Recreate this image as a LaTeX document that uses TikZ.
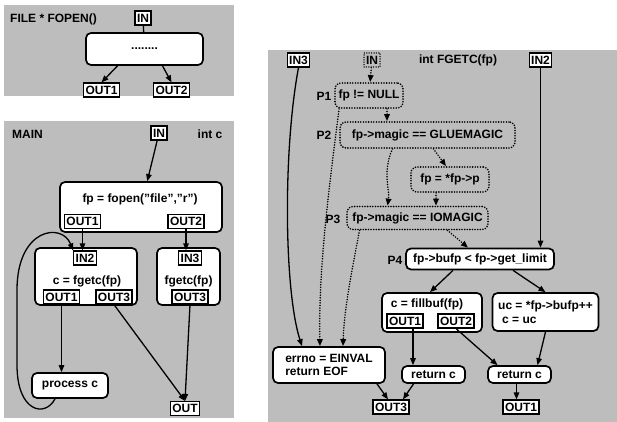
\documentclass[tikz,border=0pt]{standalone}
\usepackage{fontspec}
\setmainfont{Liberation Sans}
\usetikzlibrary{arrows.meta,positioning,calc}
\definecolor{Screen}{HTML}{BDBDBD}
\tikzset{
  lbl/.style={font=\fontsize{12}{13.5}\selectfont\bfseries,inner sep=1pt},
  blk/.style={lbl,draw,fill=white,line width=1.7pt,rounded corners=5pt},
  dotblk/.style={lbl,draw,line width=1.8pt,dash pattern=on 0pt off 2.6pt,line cap=round,rounded corners=6pt},
  port/.style={lbl,draw,fill=white,line width=1.2pt,inner xsep=2pt,minimum height=14pt},
  flow/.style={-{Triangle[length=7pt,width=5.5pt]},line width=1.3pt},
  dotflow/.style={flow,line width=1.7pt,dash pattern=on 0pt off 2.6pt,line cap=round},
}
\newcommand{\PortBox}[4]{%
  \node[port] (#1) at (#2,#3) {#4};%
}

\begin{document}
\begin{tikzpicture}[x=1pt,y=-1pt]
\useasboundingbox (0,0) rectangle (617,422);
\foreach \a/\b/\c/\d in {4/5/234/96,4/121/234/418,268/50/617/422}
  \fill[Screen] (\a,\b) rectangle (\c,\d);
% FILE * FOPEN()
\node[lbl,anchor=west] (titleA) at (9,19) {FILE * FOPEN()};
\PortBox{inA}{143}{18}{IN}
\node[blk,minimum width=117pt,minimum height=32pt] (openA) at (144.5,49) {........};
\PortBox{outA1}{101.5}{90}{OUT1}
\PortBox{outA2}{171.5}{90}{OUT2}
\draw[line width=1.3pt] (inA) -- (openA);
\draw[flow] ([xshift=-27pt]openA.south) -- (outA1.north);
\draw[flow] ([xshift=18pt]openA.south) -- (outA2.north);
% MAIN
\node[lbl,anchor=west] (titleB) at (11,134) {MAIN};
\PortBox{inB}{159}{133}{IN}
\node[lbl] (intc) at (210,134) {int c};
\node[blk,minimum width=162pt,minimum height=50pt] (openB) at (141,207) {};
\node[lbl] (openT) at (140,199) {fp = fopen("file","r")};
\PortBox{fo1}{82.5}{221.5}{OUT1}
\PortBox{fo2}{186}{221.5}{OUT2}
\node[blk,minimum width=102pt,minimum height=57pt] (getL) at (86,276.5) {};
\PortBox{in2}{85}{258}{IN2}
\node[lbl] (getLT) at (87,281) {c = fgetc(fp)};
\PortBox{gl1}{61.5}{297}{OUT1}
\PortBox{gl3}{114}{297}{OUT3}
\node[blk,minimum width=63pt,minimum height=57pt] (getR) at (188.5,276.5) {};
\PortBox{in3}{190}{258}{IN3}
\node[lbl] (getRT) at (188.5,281) {fgetc(fp)};
\PortBox{gr3}{190}{297}{OUT3}
\node[blk,minimum width=76pt,minimum height=25pt] (proc) at (70,385.5) {process c};
\PortBox{outB}{185}{408.5}{OUT}
\draw[flow] (inB) -- (openB);
\draw[flow] (fo1.south) -- (fo1.south |- in2.north);
\draw[flow] (fo2.south) -- (fo2.south |- in3.north);
\draw[flow] (gl1.south) -- (gl1.south |- proc.north);
\draw[flow] (gl3.south) -- (outB.north);
\draw[flow] (gr3.south) -- (outB.north);
\draw[flow] ([xshift=-15pt]proc.south) .. controls (45,418) and (17,412) .. (17,365)
  -- (17,290) .. controls (17,228) and (62,222) .. (in2.north west);
% int FGETC(fp)
\PortBox{in3C}{298.5}{60}{IN3}
\node[port,fill=none,dash pattern=on 0pt off 2.4pt,line cap=round,line width=1.5pt] (inC) at (372,60) {IN};
\node[lbl] (titleC) at (458,60) {int FGETC(fp)};
\PortBox{in2C}{540.5}{60}{IN2}
\node[dotblk,minimum width=68pt,minimum height=25pt] (p1) at (369,95.5) {fp != NULL};
\node[dotblk,minimum width=175pt,minimum height=26pt] (p2) at (427.5,135) {fp->magic == GLUEMAGIC};
\node[dotblk,minimum width=78pt,minimum height=25pt] (fpp) at (450,179.5) {fp = *fp->p};
\node[dotblk,minimum width=141pt,minimum height=23pt] (p3) at (417.5,218) {fp->magic == IOMAGIC};
\node[blk,minimum width=148pt,minimum height=21pt] (p4) at (480,259) {fp->bufp < fp->get\_limit};
\foreach \n/\x/\y in {1/324/96,2/324/135,3/333/219,4/395/260}
  \node[lbl] (tagP\n) at (\x,\y) {P\n};
\node[blk,minimum width=100pt,minimum height=39pt] (fill) at (432,312.5) {};
\node[lbl] (fillT) at (427,304) {c = fillbuf(fp)};
\PortBox{fb1}{405}{321}{OUT1}
\PortBox{fb2}{456}{321}{OUT2}
\node[blk,align=left,minimum width=106pt,minimum height=38pt] (ucB) at (545.5,312) {uc = *fp->bufp++\\\hspace{4pt}c = uc};
\node[blk,align=left,minimum width=112pt,minimum height=36pt] (errB) at (329,365) {errno = EINVAL\\return EOF};
\node[blk,minimum width=63pt,minimum height=17pt] (ret1) at (433.5,374.5) {return c};
\node[blk,minimum width=63pt,minimum height=17pt] (ret2) at (519.5,374.5) {return c};
\PortBox{out3}{391}{407}{OUT3}
\PortBox{out1}{521}{407}{OUT1}
\draw[flow] (in3C.south) .. controls (283,150) and (284,290) .. ([xshift=-27pt]errB.north);
\draw[dotflow] (inC) -- (p1);
\draw[dotflow] ([xshift=18pt]p1.south) -- ([xshift=18pt]p1.south |- p2.north);
\draw[dotflow] ([xshift=-30pt]p1.south) .. controls (333,160) and (318,260) .. ([xshift=-9pt]errB.north);
\draw[dotflow] ([xshift=6pt]p2.south) -- ([xshift=-4pt]fpp.north);
\draw[dotflow] ([xshift=-35pt]p2.south) .. controls (382,172) and (390,190) .. ([xshift=-30pt]p3.north);
\draw[dotflow] ([xshift=-14pt]fpp.south) -- ([xshift=-14pt]fpp.south |- p3.north);
\draw[dotflow] ([xshift=-58pt]p3.south) .. controls (352,270) and (344,310) .. ([xshift=14pt]errB.north);
\draw[dotflow] ([xshift=30pt]p3.south) -- ([xshift=-12pt]p4.north);
\draw[flow] (in2C.south) -- (in2C.south |- p4.north);
\draw[flow] ([xshift=-27pt]p4.south) -- ([xshift=-2pt]fill.north);
\draw[flow] ([xshift=33pt]p4.south) -- (ucB.north);
\draw[flow] ([xshift=8pt]fb1.south) -- ([xshift=8pt]fb1.south |- ret1.north);
\draw[flow] (fb2.south) -- ([xshift=-22pt]ret2.north);
\draw[flow] (ucB.south) -- ([xshift=18pt]ret2.north);
\draw[flow] ([xshift=48pt]errB.south) -- ([xshift=-3pt]out3.north);
\draw[flow] ([xshift=-20pt]ret1.south) -- ([xshift=12pt]out3.north);
\draw[flow] ([xshift=-3pt]ret2.south) -- ([xshift=-3pt]ret2.south |- out1.north);
\end{tikzpicture}
\end{document}
